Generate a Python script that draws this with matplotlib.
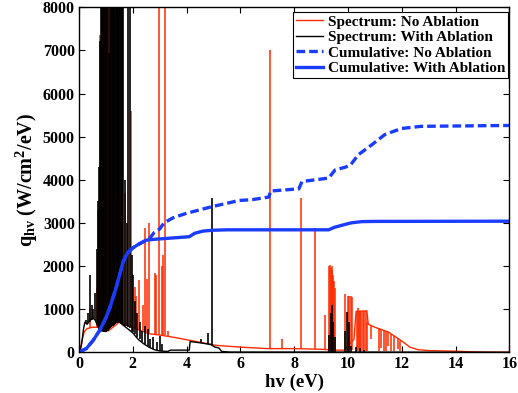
import numpy as np
import matplotlib
matplotlib.use("Agg")
import matplotlib.pyplot as plt

plt.rcParams['font.family'] = ['Liberation Serif', 'DejaVu Serif']
plt.rcParams['font.weight'] = 'bold'
plt.rcParams['mathtext.fontset'] = 'custom'
plt.rcParams['mathtext.rm'] = 'Liberation Serif:bold'
plt.rcParams['mathtext.it'] = 'Liberation Serif:bold'
plt.rcParams['mathtext.bf'] = 'Liberation Serif:bold'

# --- spectrum without ablation (red): continuum + lines (pos, peak, foot)
red_cont_x = [0, 0.05, 0.1, 0.2, 0.3, 0.5, 0.7, 0.9, 1.1, 1.3, 1.5, 1.7, 2.0, 2.3, 2.6,
              3.0, 3.5, 4.1, 5.1, 6.0, 7.0, 8.0, 9.0, 9.25, 9.58, 9.85, 10.22, 10.3,
              10.7, 10.75, 11.0, 11.5, 12.0, 12.3, 12.6, 13.0, 14.0, 14.6, 15.0, 16.0]
red_cont_y = [0, 80, 250, 480, 550, 580, 580, 500, 500, 600, 700, 650, 580, 500, 430,
              400, 350, 280, 160, 120, 85, 85, 70, 60, 50, 50, 300, 950,
              960, 650, 580, 470, 260, 120, 60, 40, 25, 10, 5, 0]
red_line_x = [0.42, 0.66, 0.72, 0.77, 0.80, 0.84, 0.90, 0.95, 1.00, 1.10, 1.20, 1.30,
              1.40, 1.50, 1.60, 1.72, 1.92, 2.07, 2.13, 2.23, 2.38, 2.45, 2.52, 2.62,
              2.81, 2.87, 2.99, 3.08, 3.14, 3.21, 3.30, 7.09, 7.53, 8.25, 8.76, 9.13,
              9.30, 9.33, 9.36, 9.39, 9.42, 9.45, 9.48, 9.52, 9.90, 10.00, 10.05, 10.10,
              10.15, 10.32, 10.36, 10.38, 10.41, 10.45, 10.50, 10.55, 10.60, 10.65,
              10.72, 10.85, 11.15, 11.22, 11.35, 11.42, 11.50, 11.60, 11.70, 11.85, 11.95]
red_line_h = [1000, 1500, 3300, 7350, 6400, 9000, 5400, 9000, 9000, 9000, 9000, 9000,
              9000, 9000, 4000, 3700, 5590, 1520, 1300, 1670, 1090, 2880, 1700, 2990,
              1830, 1800, 9000, 2000, 2250, 9000, 500, 7000, 300, 3580, 2880, 860,
              2000, 2020, 1950, 2000, 1900, 1800, 1650, 1500, 1350, 1300, 1300, 1300,
              1280, 20, 20, 1020, 100, 20, 30, 20, 50, 20,
              20, 300, 30, 100, 30, 40, 150, 40, 30, 80, 30]
red_line_f = [560, 580, 580, 550, 520, 500, 500, 480, 490, 520, 600, 620,
              680, 700, 680, 620, 600, 570, 560, 530, 500, 470, 460, 440,
              420, 415, 405, 400, 395, 390, 380, 85, 85, 85, 80, 70,
              60, 60, 60, 60, 60, 60, 60, 60, 50, 50, 50, 50,
              50, 950, 950, 950, 950, 950, 950, 950, 950, 950,
              700, 640, 560, 550, 520, 500, 470, 420, 380, 300, 270]

# --- spectrum with ablation (black)
blk_cont_x = [0, 0.05, 0.1, 0.17, 0.22, 0.3, 0.5, 0.6, 0.7, 0.8, 1.0, 1.2, 1.4, 1.5,
              1.6, 1.8, 2.0, 2.2, 2.4, 2.6, 2.8, 3.0, 3.3, 3.4, 4.1, 4.13, 4.5, 4.9,
              5.05, 5.2, 5.3, 5.6, 9.2, 10.8, 16.0]
blk_cont_y = [0, 50, 200, 550, 700, 650, 800, 750, 600, 500, 480, 600, 700, 700,
              650, 550, 450, 300, 200, 120, 60, 30, 20, 50, 50, 250, 220, 180,
              120, 100, 20, 5, 5, 5, 0]
blk_line_x = [0.25, 0.33, 0.41, 0.47, 0.53, 0.59, 0.66, 0.71, 0.76, 0.79,
              0.82, 0.85, 0.88, 0.91, 0.94, 0.97, 1.00, 1.03, 1.06, 1.12, 1.16, 1.19,
              1.22, 1.25, 1.28, 1.31, 1.34, 1.37, 1.40, 1.43, 1.46, 1.49, 1.52, 1.55,
              1.58, 1.61, 1.64, 1.72, 1.77, 1.83, 1.88, 1.96, 2.02, 2.08, 2.15, 2.25,
              2.35, 2.45, 2.55, 2.65, 2.75, 2.90, 3.00, 3.10, 4.55, 4.80, 4.95,
              9.30, 9.35, 9.40, 9.45, 9.50, 9.90, 9.97, 10.02, 10.10, 10.30, 10.45, 10.60]
blk_line_h = [750, 900, 1790, 1100, 1000, 1370, 2400, 3500, 4300, 7220,
              9000, 9000, 9000, 9000, 9000, 9000, 9000, 9000, 9000, 6950, 9000, 9000,
              9000, 9000, 9000, 9000, 9000, 9000, 9000, 9000, 9000, 9000, 9000, 9000,
              9000, 9000, 9000, 4000, 3000, 9000, 9000, 2250, 1800, 1200, 900, 700,
              500, 600, 550, 300, 350, 250, 380, 200, 300, 440, 3580,
              400, 900, 1090, 700, 350, 500, 930, 700, 150, 120, 100, 60]
blk_line_f = [680, 680, 700, 750, 780, 760, 700, 600, 550, 520,
              500, 500, 490, 490, 480, 480, 480, 490, 500, 540, 560, 580,
              600, 610, 620, 640, 660, 680, 700, 700, 700, 700, 700, 690,
              670, 650, 640, 620, 600, 580, 560, 500, 470, 420, 350, 300,
              250, 200, 150, 110, 80, 50, 30, 25, 210, 190, 170,
              10, 10, 10, 10, 10, 10, 10, 10, 10, 10, 10, 10]

# --- cumulative curves
cum_abl_x = [0, 0.28, 0.53, 0.77, 1.0, 1.14, 1.39, 1.64, 1.8, 2.0, 2.2, 2.5, 2.8, 3.24,
             4.1, 4.3, 4.6, 4.96, 5.5, 9.28, 9.5, 9.8, 10.1, 10.5, 11.0, 16.0]
cum_abl_y = [0, 90, 280, 510, 800, 1020, 1520, 2100, 2300, 2420, 2500, 2600, 2620, 2640,
             2680, 2760, 2810, 2830, 2840, 2840, 2900, 2950, 3000, 3030, 3035, 3040]
cum_no_x = [0, 0.28, 0.53, 0.77, 1.0, 1.14, 1.39, 1.64, 1.8, 2.0, 2.2, 2.5, 2.6, 2.8,
            3.0, 3.1, 3.24, 3.5, 3.98, 4.96, 5.95, 6.44, 7.06, 7.12, 8.17, 8.29, 9.28,
            9.52, 9.89, 10.1, 10.38, 10.88, 11.37, 11.99, 12.72, 16.0]
cum_no_y = [0, 90, 280, 510, 800, 1020, 1520, 2100, 2300, 2420, 2500, 2600, 2620, 2780,
            2860, 2950, 3030, 3120, 3220, 3380, 3520, 3540, 3600, 3740, 3790, 3960, 4040,
            4230, 4290, 4350, 4580, 4810, 5050, 5190, 5240, 5260]

fig = plt.figure(figsize=(5.18, 3.93), dpi=100)
ax = fig.add_axes([0.1525, 0.1036, 0.831, 0.8778])

red = '#ff2a00'
blue = '#1a3cff'

# continuum as a line, each emission line as its own vertical stroke
ax.plot(red_cont_x, red_cont_y, color=red, lw=1.0, label='Spectrum: No Ablation')
ax.vlines(red_line_x, red_line_f, red_line_h, color=red, lw=1.1)
ax.plot(blk_cont_x, blk_cont_y, color='black', lw=1.0, label='Spectrum: With Ablation')
ax.vlines(blk_line_x, blk_line_f, blk_line_h, color='black', lw=1.2)

ax.plot(cum_no_x, cum_no_y, color=blue, lw=2.4, dashes=(2.6, 1.2),
        label='Cumulative: No Ablation')
ax.plot(cum_abl_x, cum_abl_y, color=blue, lw=2.4, label='Cumulative: With Ablation')

ax.set_xlim(0, 16)
ax.set_ylim(0, 8000)
ax.set_xticks(np.arange(0, 17, 2))
ax.set_yticks(np.arange(0, 8001, 1000))
ax.tick_params(direction='in', top=True, right=True, length=4, width=0.8,
               labelsize=11.5, pad=3)
for s in ax.spines.values():
    s.set_linewidth(1.0)

ax.set_xlabel('hv (eV)', fontsize=13.5, fontweight='bold', labelpad=1)
ax.set_ylabel(r'$q_{hv}$ (W/cm$^2$/eV)', fontsize=14.5, fontweight='bold', labelpad=2)

leg = ax.legend(loc='upper right', bbox_to_anchor=(0.997, 0.987), borderaxespad=0,
                fontsize=11, frameon=True, fancybox=False, edgecolor='black',
                framealpha=1, handlelength=1.75, handletextpad=0.3,
                labelspacing=0.12, borderpad=0.2)
leg.get_frame().set_linewidth(0.8)

fig.savefig('out.png', dpi=100)
